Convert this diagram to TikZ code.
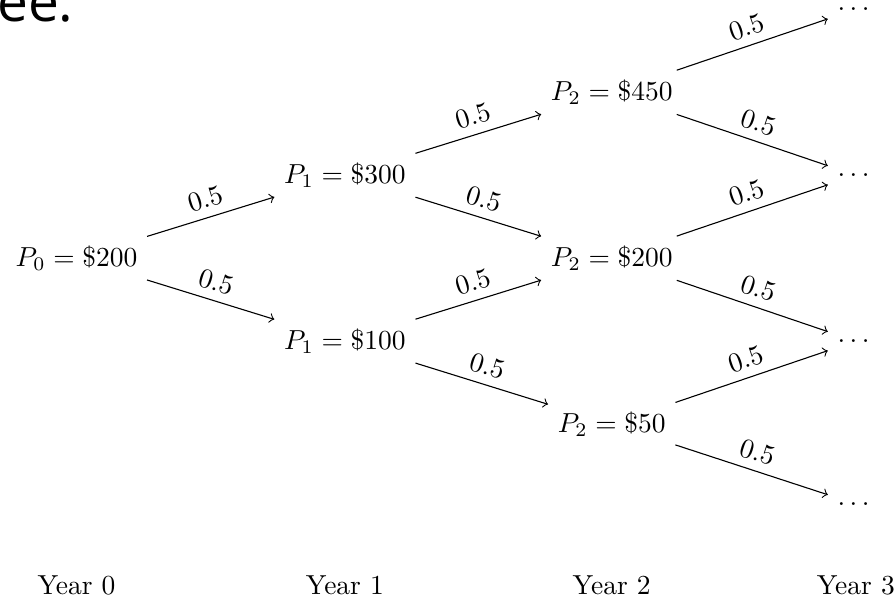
\documentclass[tikz,border=0pt]{standalone}
\usepackage{amsmath,amssymb}
\usepackage{fontspec}
\newfontfamily\slidefont{Open Sans}
\usetikzlibrary{positioning}

\begin{document}
\begin{tikzpicture}[prob/.style={midway,above,sloped}]
			\useasboundingbox (-0.978,-4.36) rectangle (10.46,3.30);
			\node[anchor=base east,inner sep=0pt] (title) at (-0.03,3.03) {\slidefont\fontsize{20}{24}\selectfont ee.};
			% prices
			\node (p0) at (0,0) {$P_0=\$200$};
			\node (p1u) at (3.43,1.06) {$P_1=\$300$};
			\node (p1d) at (3.43,-1.06) {$P_1=\$100$};
			\node (p2u) at (6.84,2.12) {$P_2=\$450$};
			\node (p2m) at (6.84,0) {$P_2=\$200$};
			\node (p2d) at (6.84,-2.12) {$P_2=\$50$};
			\node (d1) at (9.96,3.18) {$\dots$};
			\node (d2) at (9.96,1.06) {$\dots$};
			\node (d3) at (9.96,-1.06) {$\dots$};
			\node (d4) at (9.96,-3.14) {$\dots$};
			% years
			\node (y0) at (0,-4.18) {Year 0};
			\node (y1) at (3.43,-4.18) {Year 1};
			\node (y2) at (6.84,-4.18) {Year 2};
			\node (y3) at (9.96,-4.18) {Year 3};

			\begin{scope}[->]
			\draw (p0)--(p1u) node[prob] {$0.5$};
			\draw (p0)--(p1d) node[prob] {$0.5$};
			\draw (p1u)--(p2u) node[prob] {$0.5$};
			\draw (p1u)--(p2m) node[prob] {$0.5$};
			\draw (p1d)--(p2m) node[prob] {$0.5$};
			\draw (p1d)--(p2d) node[prob] {$0.5$};
			\draw (p2u)--(d1) node[prob] {$0.5$};
			\draw (p2u)--(d2) node[prob] {$0.5$};
			\draw (p2m)--(d2) node[prob] {$0.5$};
			\draw (p2m)--(d3) node[prob] {$0.5$};
			\draw (p2d)--(d3) node[prob] {$0.5$};
			\draw (p2d)--(d4) node[prob] {$0.5$};
			\end{scope}
\end{tikzpicture}
\end{document}
